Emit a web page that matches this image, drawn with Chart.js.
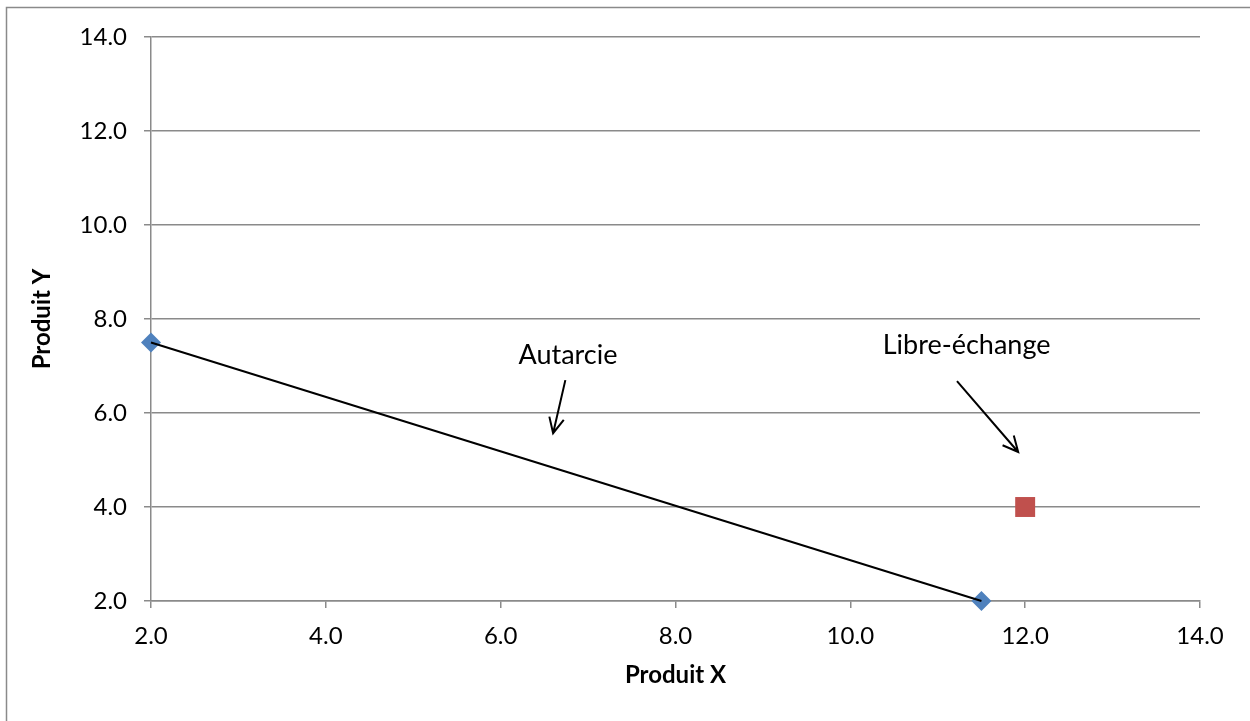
<!DOCTYPE html>
<html>
<head>
<meta charset="utf-8">
<script src="https://cdn.jsdelivr.net/npm/chart.js@4/dist/chart.umd.min.js"></script>
<style>
html,body{margin:0;padding:0;background:#fff;}
canvas{display:block;}
</style>
</head>
<body>
<canvas id="c" width="1250" height="721"></canvas>
<script>
// Data
const autarcieX = [2.0, 11.5];
const autarcieY = [7.5, 2.0];
const libreX = [12.0];
const libreY = [4.0];
const xTicks = [2, 4, 6, 8, 10, 12, 14];
const yTicks = [2, 4, 6, 8, 10, 12, 14];
const xTitle = 'Produit X';
const yTitle = 'Produit Y';
const annotationLabels = ['Autarcie', 'Libre-échange'];

const autarciePts = autarcieX.map((x, i) => ({x: x, y: autarcieY[i]}));
const librePts = libreX.map((x, i) => ({x: x, y: libreY[i]}));

const FONT = 'Lato, "Open Sans", sans-serif';
const GRID = '#8a8a8a';

// annotations in data coordinates
const notes = [
  {text: annotationLabels[0], tx: 6.77, ty: 7.23, ax1: 6.74, ay1: 6.70, ax2: 6.60, ay2: 5.57},
  {text: annotationLabels[1], tx: 11.33, ty: 7.45, ax1: 11.22, ay1: 6.68, ax2: 11.92, ay2: 5.17}
];

const frame = {
  id: 'frame',
  beforeDraw(chart) {
    const ctx = chart.ctx;
    ctx.save();
    ctx.fillStyle = '#fff';
    ctx.fillRect(0, 0, chart.width, chart.height);
    ctx.strokeStyle = '#8a8a8a';
    ctx.lineWidth = 1.5;
    ctx.strokeRect(6.5, 7.5, 1300, 800);
    ctx.restore();
  },
  afterDatasetsDraw(chart) {
    const ctx = chart.ctx;
    const xs = chart.scales.x, ys = chart.scales.y;
    ctx.save();
    ctx.fillStyle = '#000';
    ctx.strokeStyle = '#000';
    ctx.font = '27px ' + FONT;
    ctx.textAlign = 'center';
    ctx.textBaseline = 'middle';
    notes.forEach(n => {
      ctx.fillText(n.text, xs.getPixelForValue(n.tx), ys.getPixelForValue(n.ty));
      const x1 = xs.getPixelForValue(n.ax1), y1 = ys.getPixelForValue(n.ay1);
      const x2 = xs.getPixelForValue(n.ax2), y2 = ys.getPixelForValue(n.ay2);
      ctx.lineWidth = 2;
      ctx.beginPath();
      ctx.moveTo(x1, y1);
      ctx.lineTo(x2, y2);
      const ang = Math.atan2(y2 - y1, x2 - x1);
      const L = 17, w = 0.45;
      ctx.moveTo(x2 - L * Math.cos(ang - w), y2 - L * Math.sin(ang - w));
      ctx.lineTo(x2, y2);
      ctx.lineTo(x2 - L * Math.cos(ang + w), y2 - L * Math.sin(ang + w));
      ctx.stroke();
    });
    ctx.restore();
  }
};

new Chart(document.getElementById('c'), {
  type: 'scatter',
  data: {
    datasets: [
      {
        label: 'Autarcie points',
        data: autarciePts,
        showLine: false,
        clip: false,
        pointStyle: 'rectRot',
        pointRadius: 10,
        pointHoverRadius: 10,
        backgroundColor: '#4f81bd',
        borderColor: '#4f81bd',
        borderWidth: 0,
        order: 3
      },
      {
        label: 'Autarcie',
        data: autarciePts,
        showLine: true,
        clip: false,
        borderColor: '#000',
        borderWidth: 2,
        pointRadius: 0,
        pointHoverRadius: 0,
        order: 1
      },
      {
        label: 'Libre-échange',
        data: librePts,
        showLine: false,
        clip: false,
        pointStyle: 'rect',
        pointRadius: 14.1,
        pointHoverRadius: 14.1,
        backgroundColor: '#c0504d',
        borderColor: '#c0504d',
        borderWidth: 0,
        order: 2
      }
    ]
  },
  options: {
    responsive: false,
    animation: false,
    events: [],
    layout: {padding: {top: 37, right: 50, left: 0, bottom: 0}},
    plugins: {legend: {display: false}, tooltip: {enabled: false}},
    scales: {
      x: {
        type: 'linear',
        min: 2, max: 14,
        afterFit(s) { s.height = 120; },
        afterBuildTicks(s) { s.ticks = xTicks.map(v => ({value: v})); },
        ticks: {
          callback: v => Number(v).toFixed(1),
          color: '#000',
          font: {family: FONT, size: 24},
          padding: 14,
          maxRotation: 0
        },
        grid: {drawOnChartArea: false, drawTicks: true, tickLength: 7, color: GRID, lineWidth: 1.5},
        border: {display: true, color: GRID, width: 1.5},
        title: {
          display: true, text: xTitle, color: '#000',
          font: {family: FONT, size: 24, weight: 'bold'},
          padding: {top: 0, bottom: 31}
        }
      },
      y: {
        type: 'linear',
        min: 2, max: 14,
        afterFit(s) { s.width = 151; },
        afterBuildTicks(s) { s.ticks = yTicks.map(v => ({value: v})); },
        ticks: {
          callback: v => Number(v).toFixed(1),
          color: '#000',
          font: {family: FONT, size: 24},
          padding: 17
        },
        grid: {drawOnChartArea: true, drawTicks: true, tickLength: 7, color: GRID, lineWidth: 1.5},
        border: {display: true, color: GRID, width: 1.5},
        title: {
          display: true, text: yTitle, color: '#000',
          font: {family: FONT, size: 24, weight: 'bold'},
          padding: {top: 28, bottom: 0}
        }
      }
    }
  },
  plugins: [frame]
});
</script>
</body>
</html>
